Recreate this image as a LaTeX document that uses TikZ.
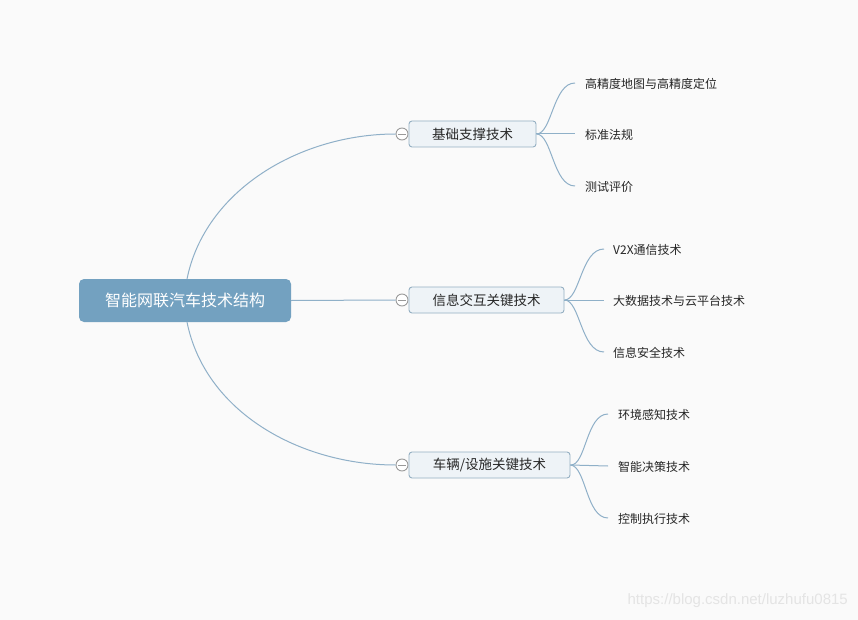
\documentclass[tikz,border=0pt]{standalone}
\usepackage{fontspec}
\setmainfont{Noto Sans CJK SC}
\newfontfamily\wmfont{Liberation Sans}
\definecolor{bgc}{HTML}{FAFAFA}
\definecolor{rootc}{HTML}{73A1C0}
\definecolor{linec}{HTML}{8FB0C8}
\definecolor{boxfill}{HTML}{EEF3F7}
\definecolor{boxdraw}{HTML}{94AFC2}
\definecolor{circc}{HTML}{9A9A9A}
\definecolor{wmc}{HTML}{E4E4E4}
\tikzset{
  rootbox/.style={draw=none, fill=rootc, rounded corners=5pt, text=white,
    font=\fontsize{16}{18}\selectfont, minimum height=43pt, inner sep=0pt},
  branchbox/.style={draw=boxdraw, line width=0.9pt, fill=boxfill, rounded corners=3pt,
    font=\fontsize{13.5}{15}\selectfont, minimum height=26pt, inner sep=0pt, text=black!85},
  leaf/.style={anchor=west, font=\fontsize{12}{14}\selectfont, inner sep=0pt, text=black!85},
  conn/.style={draw=linec, line width=1pt},
  collapse/.style={circle, draw=circc, fill=white, line width=0.9pt, minimum size=12pt, inner sep=0pt}
}
\begin{document}
\begin{tikzpicture}[x=1pt,y=-1pt]
\fill[bgc] (0,0) rectangle (858,620);
\useasboundingbox (0,0) rectangle (858,620);

% root
\node[rootbox, minimum width=212pt] (root) at (185,300.5) {智能网联汽车技术结构};
\coordinate (rtop) at (187,279);
\coordinate (rbot) at (187,322);

% collapse circles
\node[collapse] (c1) at (402,134) {};
\node[collapse] (c2) at (402,300) {};
\node[collapse] (c3) at (402,465) {};
\foreach \c in {c1,c2,c3}{\draw[circc, line width=0.9pt] ([xshift=-4pt]\c.center) -- ([xshift=4pt]\c.center);}

% branch boxes
\node[branchbox, minimum width=127pt] (b1) at (472.5,134) {基础支撑技术};
\node[branchbox, minimum width=155pt] (b2) at (486.5,300) {信息交互关键技术};
\node[branchbox, minimum width=161pt] (b3) at (489.5,465) {车辆/设施关键技术};

% root connectors
\draw[conn] (rtop) .. controls (205,190) and (300,134) .. (c1.west);
\draw[conn] (root.east) -- (c2.west);
\draw[conn] (rbot) .. controls (205,412) and (300,465) .. (c3.west);

% leaves group 1
\coordinate (e11) at (575,83);
\coordinate (e12) at (575,134);
\coordinate (e13) at (575,186);
\node[leaf] (l11) at (585,84) {高精度地图与高精度定位};
\node[leaf] (l12) at (585,135) {标准法规};
\node[leaf] (l13) at (585,187) {测试评价};
\draw[conn] (b1.east) .. controls (552,134) and (553,83) .. (e11);
\draw[conn] (b1.east) -- (e12);
\draw[conn] (b1.east) .. controls (552,134) and (553,186) .. (e13);

% leaves group 2
\coordinate (e21) at (604,249);
\coordinate (e22) at (604,300);
\coordinate (e23) at (604,352);
\node[leaf] (l21) at (613,250) {V2X通信技术};
\node[leaf] (l22) at (613,301) {大数据技术与云平台技术};
\node[leaf] (l23) at (613,353) {信息安全技术};
\draw[conn] (b2.east) .. controls (580,300) and (581,249) .. (e21);
\draw[conn] (b2.east) -- (e22);
\draw[conn] (b2.east) .. controls (580,300) and (581,352) .. (e23);

% leaves group 3
\coordinate (e31) at (608,414);
\coordinate (e32) at (608,466);
\coordinate (e33) at (608,518);
\node[leaf] (l31) at (618,415) {环境感知技术};
\node[leaf] (l32) at (618,467) {智能决策技术};
\node[leaf] (l33) at (618,519) {控制执行技术};
\draw[conn] (b3.east) .. controls (586,466) and (586,414) .. (e31);
\draw[conn] (b3.east) -- (e32);
\draw[conn] (b3.east) .. controls (586,466) and (586,518) .. (e33);

% watermark
\node[anchor=east, inner sep=0pt, text=wmc, font=\wmfont\fontsize{15}{17}\selectfont] (wm) at (848,601) {https://blog.csdn.net/luzhufu0815};
\end{tikzpicture}
\end{document}
